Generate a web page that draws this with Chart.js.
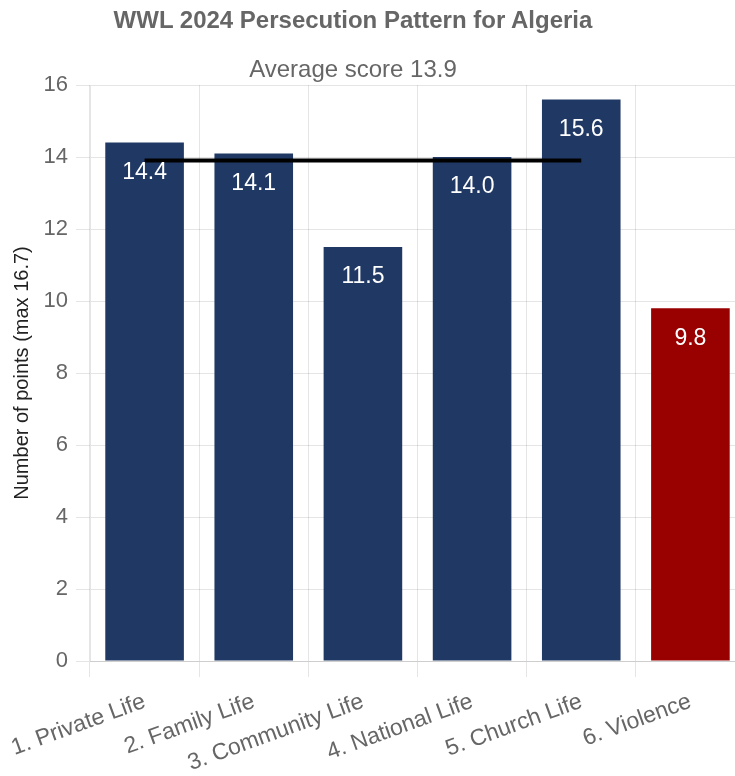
<!DOCTYPE html>
<html><head><meta charset="utf-8">
<script src="https://cdn.jsdelivr.net/npm/chart.js@4.4.1/dist/chart.umd.min.js"></script>
<style>
html,body{margin:0;padding:0;overflow:hidden;background:#fff;width:735px;height:776px;}
#wrap{position:relative;width:745px;height:776px;}
.t{position:absolute;left:0;width:706px;text-align:center;font-family:"Liberation Sans",Arial,sans-serif;color:#666;font-size:24px;line-height:24px;white-space:nowrap;}
#title{top:8px;font-weight:bold;}
#subtitle{top:57px;}
canvas{position:absolute;left:0;top:0;}
</style></head><body>
<div id="wrap"><canvas id="c" width="745" height="776"></canvas>
<div class="t" id="title">WWL 2024 Persecution Pattern for Algeria</div>
<div class="t" id="subtitle"></div></div>
<script>
const categories = ['1. Private Life', '2. Family Life', '3. Community Life', '4. National Life', '5. Church Life', '6. Violence'];
const scores = [14.4, 14.1, 11.5, 14.0, 15.6, 9.8];
const barColors = ['#203864', '#203864', '#203864', '#203864', '#203864', '#990000'];
const averageScore = 13.9;
const averageLine = [13.9, 13.9, 13.9, 13.9, 13.9, null];
const yTicks = [0, 2, 4, 6, 8, 10, 12, 14, 16];

document.getElementById('subtitle').textContent = 'Average score ' + averageScore.toFixed(1);

const FONT = '"Liberation Sans", Arial, sans-serif';
Chart.defaults.font.family = FONT;

const valueLabels = {
  id: 'valueLabels',
  afterDatasetsDraw(chart) {
    const meta = chart.getDatasetMeta(0);
    const ctx = chart.ctx;
    ctx.save();
    ctx.font = '23px ' + FONT;
    ctx.fillStyle = '#ffffff';
    ctx.textAlign = 'center';
    ctx.textBaseline = 'middle';
    meta.data.forEach((bar, i) => {
      ctx.fillText(scores[i].toFixed(1), bar.x, bar.y + 30);
    });
    ctx.restore();
  }
};

new Chart(document.getElementById('c'), {
  type: 'bar',
  data: {
    labels: categories,
    datasets: [
      { type: 'bar', data: scores, backgroundColor: barColors, order: 1 },
      { type: 'line', data: averageLine, borderColor: '#000', borderWidth: 4, pointRadius: 0, fill: false, order: 0 }
    ]
  },
  options: {
    responsive: false,
    animation: false,
    layout: { padding: { top: 85, left: 0, right: 0, bottom: 0 } },
    plugins: { legend: { display: false }, tooltip: { enabled: false }, title: { display: false } },
    scales: {
      x: {
        grid: { offset: true, tickLength: 16, color: 'rgba(0,0,0,0.1)' },
        border: { color: 'rgba(0,0,0,0.1)' },
        ticks: { minRotation: 20, maxRotation: 20, autoSkip: false, color: '#666', font: { size: 23 }, padding: 11 },
        afterFit(s) { s.height = 115; s.paddingLeft = 0; s.paddingRight = 0; }
      },
      y: {
        min: 0, max: 16,
        afterBuildTicks(s) { s.ticks = yTicks.map(v => ({ value: v })); },
        grid: { tickLength: 14, color: 'rgba(0,0,0,0.1)' },
        border: { color: 'rgba(0,0,0,0.1)' },
        ticks: { color: '#666', font: { size: 22 }, padding: 8 },
        title: { display: true, text: 'Number of points (max 16.7)', color: '#222', font: { size: 20 }, padding: { top: 10, bottom: 4 } },
        afterFit(s) { s.width = 90; }
      }
    }
  },
  plugins: [valueLabels]
});
</script>
</body></html>
